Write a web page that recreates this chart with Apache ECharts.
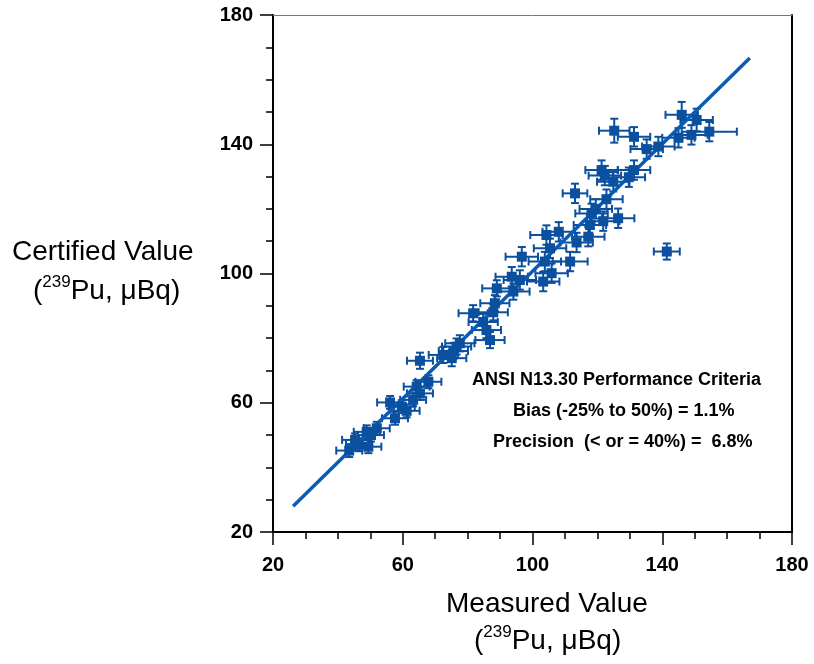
<!DOCTYPE html>
<html>
<head>
<meta charset="utf-8">
<script src="https://cdn.jsdelivr.net/npm/echarts@6/dist/echarts.min.js"></script>
<style>
html, body { margin: 0; padding: 0; background: #fff; }
#main { width: 814px; height: 664px; }
</style>
</head>
<body>
<div id="main"></div>
<script>
// measured vs certified
var measured = [
	43.5, 45.3, 46.5, 49.4, 48.9, 50.2, 52.0,
	56.1, 57.6, 59.7, 61.2, 63.2, 64.3, 65.3,
	67.9, 65.3, 72.5, 75.1, 75.6, 76.6, 77.6,
	81.7, 84.8, 85.8, 86.9, 87.9, 88.4, 89.0,
	93.6, 94.1, 96.1, 96.7, 103.3, 105.9, 103.8,
	105.4, 104.3, 108.1, 111.6, 113.6, 113.1, 117.2,
	117.7, 118.2, 119.5, 121.8, 126.4, 122.8, 121.3,
	122.3, 124.9, 129.7, 131.3, 125.2, 131.3, 135.2,
	138.8, 145.0, 146.0, 150.6, 149.0, 154.5, 141.4
];
var certified = [
	45.2, 48.5, 47.0, 46.4, 51.0, 50.0, 52.1,
	60.1, 55.2, 58.8, 57.5, 60.9, 65.0, 62.9,
	66.5, 73.0, 74.8, 73.8, 76.0, 77.4, 78.4,
	87.7, 85.0, 82.5, 79.4, 88.0, 90.8, 95.4,
	99.0, 94.4, 98.0, 105.2, 97.5, 100.1, 103.7,
	107.8, 111.9, 112.9, 103.7, 109.6, 124.8, 111.4,
	115.0, 118.6, 120.0, 116.2, 117.1, 123.0, 132.0,
	130.3, 128.4, 129.8, 132.0, 144.2, 142.3, 138.5,
	139.3, 142.0, 149.1, 147.5, 142.9, 143.9, 106.8
];
var measuredErr = [
	4, 4, 4, 4, 4, 4, 4,
	4, 4, 4, 4, 4, 4, 4,
	4, 4, 4.5, 4.5, 4.5, 4.5, 4.5,
	4.5, 4.5, 4.5, 4.5, 4.5, 4.5, 4.5,
	5, 5, 5, 5, 5, 5, 5,
	5, 5, 5, 5.4, 5, 3.8, 5,
	5, 5, 5, 5, 5, 5, 5,
	5, 5, 5, 5, 4.7, 5, 5,
	5, 5, 5, 5, 5, 8.5, 4
];
var certifiedErr = [
	2, 2, 2, 2, 2, 2, 2,
	2, 2, 2, 2, 2, 2, 2,
	2, 2.5, 2.5, 2.5, 2.5, 2.5, 2.5,
	2.5, 2.5, 2.5, 2.5, 2.5, 2.5, 2.5,
	3, 2.5, 3, 3, 3, 3, 3,
	3, 3, 3, 3, 3, 3, 3,
	3, 3, 3, 3, 3, 3, 3,
	3, 3, 3, 3, 3.7, 3, 3,
	3, 3, 4, 3.5, 3, 3, 2.5
];
// regression line end points
var fitX = [26.2, 167.0];
var fitY = [28.0, 166.7];
var axisTicks = [20, 60, 100, 140, 180];

var blue = '#0b4f9f';
var lineBlue = '#0a5bb3';
var font = 'Liberation Sans, Arial, sans-serif';

var points = [], bars = [], fit = [];
for (var i = 0; i < measured.length; i++) {
	points.push([measured[i], certified[i]]);
	bars.push([measured[i], certified[i], measuredErr[i], certifiedErr[i]]);
}
for (var j = 0; j < fitX.length; j++) fit.push([fitX[j], fitY[j]]);

//误差线
function renderBars(params, api) {
	var x = api.value(0), y = api.value(1), xe = api.value(2), ye = api.value(3);
	var l = api.coord([x - xe, y]), r = api.coord([x + xe, y]);
	var t = api.coord([x, y + ye]), b = api.coord([x, y - ye]);
	var cap = 4;
	var st = { stroke: blue, lineWidth: 2 };
	function seg(x1, y1, x2, y2) {
		return { type: 'line', shape: { x1: x1, y1: y1, x2: x2, y2: y2 }, style: st };
	}
	return {
		type: 'group',
		children: [
			seg(l[0], l[1], r[0], r[1]),
			seg(l[0], l[1] - cap, l[0], l[1] + cap),
			seg(r[0], r[1] - cap, r[0], r[1] + cap),
			seg(t[0], t[1], b[0], b[1]),
			seg(t[0] - cap, t[1], t[0] + cap, t[1]),
			seg(b[0] - cap, b[1], b[0] + cap, b[1])
		]
	};
}

function mainAxis(pos, margin) {
	return {
		type: 'value',
		position: pos,
		min: axisTicks[0],
		max: axisTicks[axisTicks.length - 1],
		interval: axisTicks[1] - axisTicks[0],
		axisLine: { show: true, lineStyle: { color: '#000', width: 2 } },
		axisTick: { show: true, inside: false, length: 13, lineStyle: { color: '#000', width: 1.5 } },
		minorTick: { show: true, splitNumber: 4, length: 7, lineStyle: { color: '#000', width: 1.5 } },
		splitLine: { show: false },
		minorSplitLine: { show: false },
		axisLabel: { color: '#000', fontFamily: font, fontWeight: 'bold', fontSize: 20, margin: margin }
	};
}
function frameAxis(pos, color, width) {
	return {
		type: 'value',
		position: pos,
		min: axisTicks[0],
		max: axisTicks[axisTicks.length - 1],
		axisLine: { show: true, lineStyle: { color: color, width: width } },
		axisTick: { show: false },
		axisLabel: { show: false },
		splitLine: { show: false }
	};
}

var subTitle = {
	text: '({s|239}Pu, μBq)',
	font: '28px ' + font, fill: '#000', lineHeight: 34,
	rich: { s: { fontSize: 17, fontFamily: font, verticalAlign: 'top', lineHeight: 34, padding: [0, 0, 12, 0] } }
};

var myChart = echarts.init(document.getElementById('main'), null, { renderer: 'canvas' });
var option = {
	backgroundColor: '#fff',
	animation: false,
	grid: { left: 273, right: 22, top: 15, bottom: 132 },
	xAxis: [mainAxis('bottom', 23), frameAxis('top', '#777', 1)],
	yAxis: [mainAxis('left', 20), frameAxis('right', '#000', 2)],
	graphic: [
		{ type: 'text', left: 12, top: 238, style: { text: 'Certified Value', font: '28px ' + font, fill: '#000' } },
		{ type: 'text', left: 33, top: 274, style: subTitle },
		{ type: 'text', left: 446, top: 590, style: { text: 'Measured Value', font: '28px ' + font, fill: '#000' } },
		{ type: 'text', left: 474, top: 624, style: subTitle },
		{ type: 'text', left: 472, top: 371, style: { text: 'ANSI N13.30 Performance Criteria', font: 'bold 18px ' + font, fill: '#000' } },
		{ type: 'text', left: 513, top: 402, style: { text: 'Bias (-25% to 50%) = 1.1%', font: 'bold 18px ' + font, fill: '#000' } },
		{ type: 'text', left: 493, top: 433, style: { text: 'Precision  (< or = 40%) =  6.8%', font: 'bold 18px ' + font, fill: '#000' } }
	],
	series: [{
		type: 'custom',
		renderItem: renderBars,
		data: bars,
		z: 2,
		silent: true
	}, {
		type: 'line',
		data: fit,
		symbol: 'none',
		lineStyle: { color: lineBlue, width: 3.5 },
		z: 3
	}, {
		type: 'scatter',
		data: points,
		symbol: 'rect',
		symbolSize: 10,
		itemStyle: { color: blue, opacity: 1 },
		z: 4
	}]
};
myChart.setOption(option);
</script>
</body>
</html>
